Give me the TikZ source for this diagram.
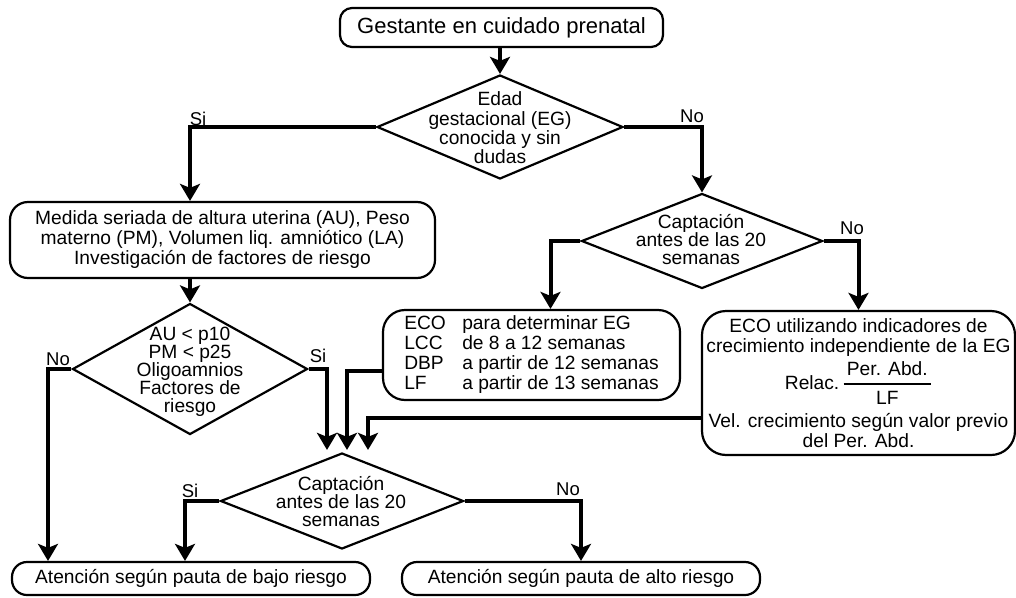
\documentclass[tikz,border=0pt]{standalone}
\usepackage{fontspec}
\setmainfont{Liberation Sans}
\usepackage{amsmath}
\usetikzlibrary{shapes.geometric,arrows.meta}
% font sizes used in the chart
\newcommand\fcBody{\fontsize{19.2}{20}\selectfont}
\newcommand\fcDia{\fontsize{19.2}{18}\selectfont}
\newcommand\fcTitle{\fontsize{22}{24}\selectfont}
\newcommand\fcLbl{\fontsize{18.5}{19}\selectfont}
\begin{document}
\begin{tikzpicture}[x=1pt,y=-1pt,
  box/.style={draw, line width=2.2pt, rounded corners=#1, align=center, inner sep=0pt, font=\fcBody},
  box/.default=18pt,
  dia/.style={draw, diamond, line width=2.2pt, inner sep=0pt},
  dtext/.style={align=center, inner sep=0pt, font=\fcDia},
  lbl/.style={inner sep=0pt, font=\fcLbl},
  conn/.style={line width=4pt, -{Stealth[length=17pt,width=20pt,inset=4pt]}}]

\useasboundingbox (0,0) rectangle (1016,597);

% start
\node[box=12pt, minimum width=323pt, minimum height=39pt, font=\fcTitle] (title) at (501.5,27.5) {Gestante en cuidado prenatal};

% first decision
\node[dia, minimum width=246pt, minimum height=104pt] (d1) at (500,127) {};
\node[dtext, font=\fontsize{19.2}{19.3}\selectfont] (d1t) at (500,128) {Edad\\gestacional (EG)\\conocida y sin\\dudas};

% known gestational age branch
\node[box, minimum width=425pt, minimum height=76pt] (medida) at (222.5,240) {Medida seriada de altura uterina (AU), Peso\\materno (PM), Volumen liq. amniótico (LA)\\Investigación de factores de riesgo};

\node[dia, minimum width=235pt, minimum height=131pt] (d3) at (190,369) {};
\node[dtext] (d3t) at (190,372) {AU < p10\\PM < p25\\Oligoamnios\\Factores de\\riesgo};

% unknown gestational age branch
\node[dia, minimum width=241pt, minimum height=95pt] (d2) at (702,241) {};
\node[dtext] (d2t) at (701,240) {Captación\\antes de las 20\\semanas};

\node[box=22pt, minimum width=297pt, minimum height=90pt] (eco) at (531.5,355)
  {\begin{tabular}{@{}p{58pt}@{}l@{}}
   ECO & para determinar EG\\
   LCC & de 8 a 12 semanas\\
   DBP & a partir de 12 semanas\\
   LF  & a partir de 13 semanas
   \end{tabular}};

\node[box=24pt, minimum width=313pt, minimum height=144pt] (rbox) at (858.5,383)
  {ECO utilizando indicadores de\\crecimiento independiente de la EG\\[4pt]
   Relac.\,$\genfrac{}{}{2pt}{0}{\mbox{\,Per. Abd.\,}}{\mbox{LF}}$\\[8pt]
   Vel. crecimiento según valor previo\\del Per. Abd.};

% second capture decision
\node[dia, minimum width=243pt, minimum height=96pt] (d4) at (342,501) {};
\node[dtext] (d4t) at (341,502) {Captación\\antes de las 20\\semanas};

% outcomes
\node[box=15pt, minimum width=358pt, minimum height=33pt] (low) at (191,578.5) {Atención según pauta de bajo riesgo};
\node[box=15pt, minimum width=358pt, minimum height=33pt] (high) at (581,578.5) {Atención según pauta de alto riesgo};

% branch labels
\node[lbl] (l1) at (198,119) {Si};
\node[lbl] (l2) at (692,116) {No};
\node[lbl] (l3) at (852,228) {No};
\node[lbl] (l4) at (58,359) {No};
\node[lbl] (l5) at (318,356) {Si};
\node[lbl] (l6) at (190,491) {Si};
\node[lbl] (l7) at (568,489) {No};

% connectors
\draw[conn] (title.south -| d1.north) -- (d1.north);
\draw[conn] (d1.west) -| (d3.north |- medida.north);
\draw[conn] (d1.east) -| (d2.north);
\draw[conn] (medida.south -| d3.north) -- (d3.north);
\draw[conn] (d2.west) -| ([xshift=19pt]eco.north);
\draw[conn] (d2.east) -| (rbox.north);
\draw[conn] (d3.west) -| ([xshift=-143pt]low.north);
\draw[conn] (d3.east) -| ([xshift=-15pt,yshift=2pt]d4.north);
\draw[conn] ([yshift=-16pt]eco.west) -| ([xshift=5pt,yshift=2pt]d4.north);
\draw[conn] ([yshift=-35pt]rbox.west) -| ([xshift=26pt,yshift=2pt]d4.north);
\draw[conn] (d4.west) -| ([xshift=-6pt]low.north);
\draw[conn] (d4.east) -| (high.north);
\end{tikzpicture}
\end{document}
